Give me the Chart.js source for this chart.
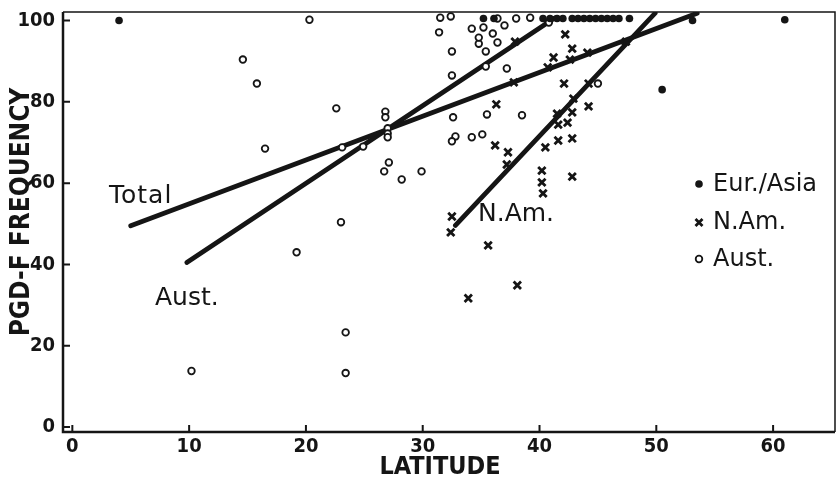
<!DOCTYPE html>
<html><head><meta charset="utf-8">
<script src="https://cdn.jsdelivr.net/npm/chart.js@4/dist/chart.umd.min.js"></script>
<style>html,body{margin:0;padding:0;background:#fff}#wrap{width:836px;height:479px}</style>
</head><body><div id="wrap"><canvas id="c" width="836" height="479"></canvas></div>
<script>
// ---- tick labels ----
const xTicks = [0, 10, 20, 30, 40, 50, 60];
const yTicks = [0, 20, 40, 60, 80, 100];

// ---- Eur./Asia (filled dots) ----
const eurAsiaX = [4.0, 35.2, 36.1, 40.3, 40.9, 41.5, 42.0, 42.8, 43.3, 43.8, 44.3, 44.8, 45.3, 45.8, 46.3, 46.8, 47.7, 53.1, 61.0, 50.5];
const eurAsiaY = [100, 100.5, 100.5, 100.5, 100.5, 100.5, 100.5, 100.5, 100.5, 100.5, 100.5, 100.5, 100.5, 100.5, 100.5, 100.5, 100.5, 100, 100.2, 83];

// ---- N.Am. (crosses) ----
const nAmX = [37.9, 37.8, 36.3, 36.2, 37.3, 37.2, 32.5, 32.4, 35.6, 38.1, 33.9, 42.2, 42.8, 41.2, 42.6, 44.1, 40.7, 47.4, 42.1, 44.2, 42.9, 44.2, 41.5, 42.8, 41.6, 42.4, 40.5, 41.6, 42.8, 40.2, 40.2, 40.3, 42.8];
const nAmY = [94.8, 84.8, 79.4, 69.3, 67.6, 64.6, 51.8, 47.9, 44.7, 34.9, 31.7, 96.6, 93.1, 90.9, 90.4, 92.1, 88.5, 94.8, 84.5, 84.5, 80.8, 78.9, 77.1, 77.4, 74.4, 74.9, 68.8, 70.5, 71.0, 63.1, 60.2, 57.5, 61.6];

// ---- Aust. (open circles) ----
const austX = [14.6, 15.8, 16.5, 19.2, 10.2, 20.3, 22.6, 23.0, 23.4, 23.4, 23.1, 24.9, 26.8, 26.8, 27.0, 27.0, 27.0, 27.1, 26.7, 28.2, 29.9, 31.5, 32.4, 31.4, 32.5, 32.5, 32.6, 32.8, 32.5, 34.2, 35.1, 35.5, 38.5, 37.2, 35.4, 35.4, 34.8, 34.8, 34.2, 35.2, 36.0, 36.4, 37.0, 36.4, 38.0, 39.2, 40.8, 45.0];
const austY = [90.4, 84.5, 68.5, 43.0, 13.8, 100.2, 78.4, 50.4, 23.3, 13.3, 68.8, 69.0, 77.6, 76.2, 73.5, 72.2, 71.3, 65.1, 62.9, 60.9, 62.9, 100.7, 101.0, 97.1, 92.4, 86.5, 76.2, 71.5, 70.3, 71.3, 72.0, 76.9, 76.7, 88.2, 88.7, 92.4, 94.3, 95.8, 98.0, 98.3, 96.8, 94.6, 98.8, 100.5, 100.5, 100.7, 99.5, 84.5];

// ---- regression lines (end points) ----
const totalLineX = [5.0, 53.5];
const totalLineY = [49.5, 101.8];
const austLineX = [9.8, 41.3];
const austLineY = [40.5, 100.6];
const nAmLineX = [32.8, 49.9];
const nAmLineY = [49.6, 101.8];

const pts = (xs, ys) => xs.map((x, i) => ({x: x, y: ys[i]}));

const INK = '#151515';
const AXIS_FONT = "'Liberation Sans Narrow', 'DejaVu Sans Condensed', sans-serif";
const TEXT_FONT = "'DejaVu Sans', sans-serif";

const framePlugin = {
  id: 'frame',
  beforeDatasetsDraw(chart) {
    const {ctx, chartArea: a, scales} = chart;
    ctx.save();
    ctx.strokeStyle = INK;
    ctx.lineWidth = 1.5;
    ctx.beginPath();
    ctx.moveTo(a.left, a.top); ctx.lineTo(a.right, a.top); ctx.lineTo(a.right, a.bottom);
    ctx.stroke();
    ctx.lineWidth = 2.5;
    ctx.beginPath();
    ctx.moveTo(a.left, a.top); ctx.lineTo(a.left, a.bottom); ctx.lineTo(a.right, a.bottom);
    ctx.stroke();
    ctx.lineWidth = 2;
    ctx.beginPath();
    xTicks.forEach(v => {
      const px = scales.x.getPixelForValue(v);
      ctx.moveTo(px, a.bottom); ctx.lineTo(px, a.bottom - 7);
    });
    yTicks.forEach(v => {
      const py = scales.y.getPixelForValue(v);
      ctx.moveTo(a.left, py); ctx.lineTo(a.left + 7, py);
    });
    ctx.stroke();
    ctx.restore();
  },
  afterDraw(chart) {
    const {ctx} = chart;
    ctx.save();
    ctx.fillStyle = INK;
    ctx.strokeStyle = INK;
    ctx.textBaseline = 'middle';
    ctx.textAlign = 'center';
    // axis titles
    ctx.font = "bold 25px " + AXIS_FONT;
    ctx.fillText('LATITUDE', 440, 467);
    ctx.save();
    ctx.translate(22, 212);
    ctx.rotate(-Math.PI / 2);
    ctx.font = "bold 26px " + AXIS_FONT;
    ctx.fillText('PGD-F FREQUENCY', 0, 0);
    ctx.restore();
    ctx.textAlign = 'left';
    // line labels
    ctx.font = "25px " + TEXT_FONT;
    ctx.letterSpacing = '1px';
    ctx.fillText('Total', 109, 196);
    ctx.letterSpacing = '0px';
    ctx.fillText('Aust.', 155, 298);
    ctx.fillText('N.Am.', 478, 214);
    // legend
    ctx.font = "24px " + TEXT_FONT;
    const items = [['Eur./Asia', 185, 'dot'], ['N.Am.', 223, 'cross'], ['Aust.', 260, 'ring']];
    items.forEach(([t, y, m]) => {
      const mx = 699;
      if (m === 'dot') { ctx.beginPath(); ctx.arc(mx, y - 1, 3.8, 0, Math.PI * 2); ctx.fill(); }
      if (m === 'cross') { ctx.lineWidth = 2.8; ctx.beginPath(); ctx.moveTo(mx - 3.5, y - 4); ctx.lineTo(mx + 3.5, y + 3); ctx.moveTo(mx + 3.5, y - 4); ctx.lineTo(mx - 3.5, y + 3); ctx.stroke(); }
      if (m === 'ring') { ctx.lineWidth = 1.8; ctx.beginPath(); ctx.arc(mx, y - 1, 3.3, 0, Math.PI * 2); ctx.stroke(); }
      ctx.fillText(t, 713, y);
    });
    ctx.restore();
  }
};

const lineDs = (label, xs, ys) => ({
  type: 'line', label: label, data: pts(xs, ys), showLine: true,
  borderColor: INK, borderWidth: 4.8, borderCapStyle: 'round', pointRadius: 0, fill: false, order: 10
});

new Chart(document.getElementById('c'), {
  type: 'scatter',
  data: {
    datasets: [
      { label: 'Eur./Asia', data: pts(eurAsiaX, eurAsiaY), pointStyle: 'circle', pointRadius: 3.8,
        backgroundColor: INK, borderColor: INK, borderWidth: 0, order: 1 },
      { label: 'N.Am.', data: pts(nAmX, nAmY), pointStyle: 'crossRot', pointRadius: 5.2,
        borderColor: INK, borderWidth: 2.8, order: 2 },
      { label: 'Aust.', data: pts(austX, austY), pointStyle: 'circle', pointRadius: 3.3,
        backgroundColor: '#fff', borderColor: INK, borderWidth: 1.8, order: 3 },
      lineDs('Total', totalLineX, totalLineY),
      lineDs('Aust. fit', austLineX, austLineY),
      lineDs('N.Am. fit', nAmLineX, nAmLineY)
    ]
  },
  options: {
    responsive: false, animation: false,
    layout: { autoPadding: false, padding: { top: 12, right: 1, left: 0, bottom: 0 } },
    plugins: { legend: { display: false }, tooltip: { enabled: false } },
    scales: {
      x: {
        type: 'linear', min: -0.8, max: 65.3,
        afterBuildTicks: s => { s.ticks = xTicks.map(v => ({value: v})); },
        afterFit: s => { s.height = 47; s.paddingLeft = 0; s.paddingRight = 0; },
        grid: { display: false, drawTicks: false }, border: { display: false },
        ticks: { color: INK, padding: 3, font: { family: AXIS_FONT, size: 20, weight: 'bold' } },
        title: { display: false }
      },
      y: {
        type: 'linear', min: -1.2, max: 102.1,
        afterBuildTicks: s => { s.ticks = yTicks.map(v => ({value: v})); },
        afterFit: s => { s.width = 63; s.paddingTop = 0; s.paddingBottom = 0; },
        grid: { display: false, drawTicks: false }, border: { display: false },
        ticks: { color: INK, padding: 8, font: { family: AXIS_FONT, size: 20, weight: 'bold' } },
        title: { display: false }
      }
    }
  },
  plugins: [framePlugin]
});
</script>
</body></html>
